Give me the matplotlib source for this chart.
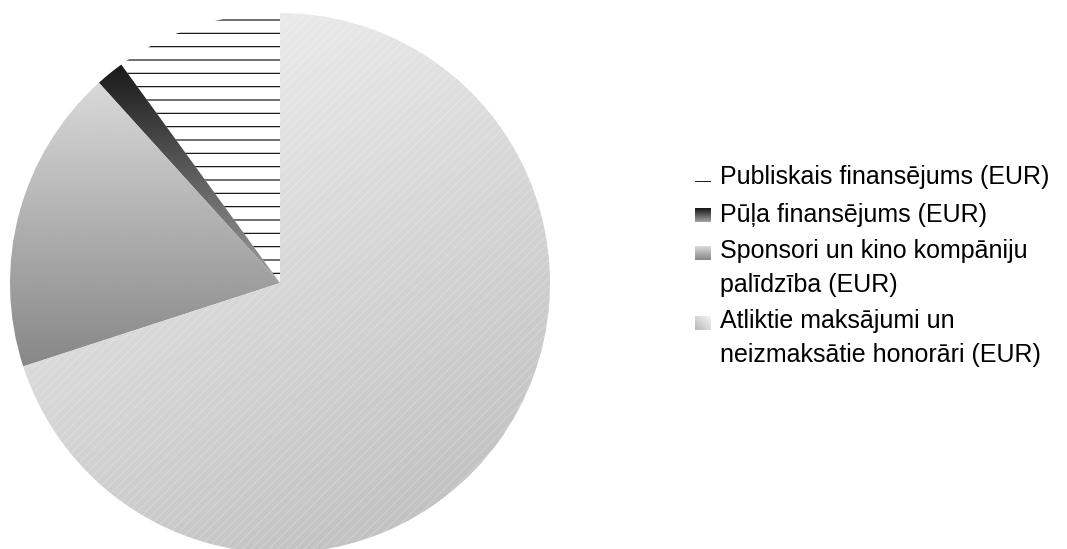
import numpy as np
import matplotlib
matplotlib.use("Agg")
import matplotlib.pyplot as plt
from matplotlib.lines import Line2D

plt.rcParams["font.family"] = ["Liberation Sans", "DejaVu Sans"]

# ========== Dati ==========
labels = [
    "Publiskais finansējums (EUR)",
    "Pūļa finansējums (EUR)",
    "Sponsori un kino kompāniju\npalīdzība (EUR)",
    "Atliktie maksājumi un\nneizmaksātie honorāri (EUR)",
]
shares = [10.0, 1.7, 18.3, 70.0]   # % no kopējā budžeta
# ==========================

DPI = 80
W, H = 1067, 549

# gradienti sektoriem: (sākuma tonis, beigu tonis, virziens)
grad_style = [
    None,                    # publiskais - tikai horizontālas svītras
    (0.10, 0.62, "v"),
    (0.85, 0.53, "v"),
    (0.95, 0.73, "d"),
]


def gradient_image(ax, wedge, top, bottom, mode):
    verts = wedge.get_path().vertices
    x0, y0 = verts.min(axis=0)
    x1, y1 = verts.max(axis=0)
    X, Y = np.meshgrid(np.linspace(x0, x1, 300), np.linspace(y0, y1, 300))
    if mode == "v":
        s = -Y
    else:
        s = 0.5 * X - Y
    t = (s - s.min()) / (s.max() - s.min())
    img = top + (bottom - top) * t
    im = ax.imshow(img, cmap="gray", vmin=0, vmax=1, origin="lower",
                   extent=(x0, x1, y0, y1), interpolation="bilinear", zorder=1)
    im.set_clip_path(wedge)


def key_gradient(top, bottom, mode, w=16, h=14):
    # mazs gradienta kvadrātiņš leģendai (pikseļos)
    X, Y = np.meshgrid(np.arange(w), np.arange(h))
    if mode == "v":
        t = Y / (h - 1)
    else:
        t = ((w - 1 - X) + Y) / (w + h - 2)
    return top + (bottom - top) * t


fig = plt.figure(figsize=(W / DPI, H / DPI), dpi=DPI)
r_px = 270
cx, cy = 280, 283
ax = fig.add_axes([(cx - r_px) / W, (H - cy - r_px) / H, 2 * r_px / W, 2 * r_px / H])

wedges, _ = ax.pie(shares, startangle=90, counterclock=True, radius=1,
                   wedgeprops=dict(linewidth=0))
ax.set_xlim(-1, 1)
ax.set_ylim(-1, 1)
ax.set_aspect("equal")
ax.axis("off")

for w, g in zip(wedges, grad_style):
    w.set_zorder(2)
    w.set_facecolor("none")
    w.set_linewidth(0)
    if g is None:
        w.set_edgecolor("black")
        w.set_hatch("-")
    else:
        gradient_image(ax, w, *g)
# vājas diagonālas svītras lielajam sektoram
wedges[3].set_edgecolor((1, 1, 1, 0.22))
wedges[3].set_hatch("///")

# ---- leģenda ----
fs = 22.5
line_gap = 32          # attālums starp rindām vienā ierakstā (px)
text_x = 720
key_x = 695
first_base = [184, 222, 260, 330]   # ieraksta pirmās rindas bāzes līnija (px no augšas)
for lab, base, g in zip(labels, first_base, grad_style):
    n_lines = lab.count("\n") + 1
    last_base = base + (n_lines - 1) * line_gap
    fig.text(text_x / W, 1 - last_base / H, lab, fontsize=fs, ha="left", va="baseline",
             linespacing=1.55, color="black")
    if g is None:
        fig.add_artist(Line2D([key_x / W, (key_x + 15) / W], [1 - 181 / H] * 2,
                              color="black", linewidth=0.8))
    else:
        top, bottom, mode = g
        img = key_gradient(top, bottom, mode)
        fig.figimage(img, xo=key_x, yo=H - base, cmap="gray", vmin=0, vmax=1,
                     origin="upper")

fig.savefig("out.png", dpi=DPI)
